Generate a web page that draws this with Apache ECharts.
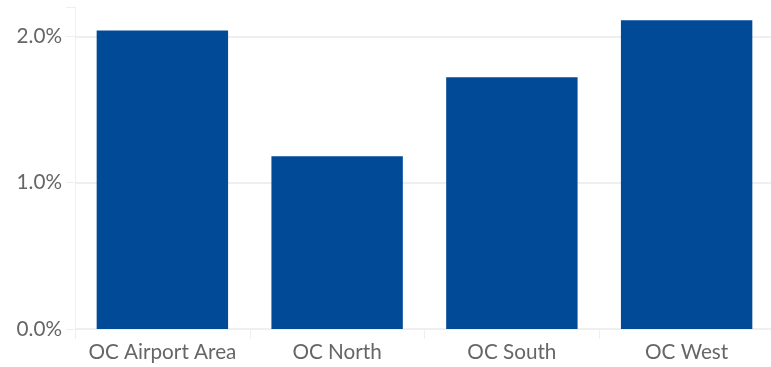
<!DOCTYPE html>
<html>
<head>
<meta charset="utf-8">
<script src="https://cdn.jsdelivr.net/npm/echarts@6/dist/echarts.min.js"></script>
<style>html,body{margin:0;padding:0;background:#fff}#c{width:771px;height:367px}</style>
</head>
<body>
<div id="c"></div>
<script>
const categories = ['OC Airport Area', 'OC North', 'OC South', 'OC West'];
const values = [2.04, 1.18, 1.72, 2.11];
const yTicks = [0, 1, 2];

const chart = echarts.init(document.getElementById('c'));
const gridColor = '#efefef';
const textColor = '#666666';
const font = 'Lato, "Open Sans", sans-serif';
chart.setOption({
  animation: false,
  grid: { left: 75, width: 699, top: 7, bottom: 38, containLabel: false, outerBoundsMode: 'none' },
  xAxis: {
    type: 'category',
    data: categories,
    axisLine: { show: true, lineStyle: { color: gridColor, width: 1 } },
    axisTick: { show: true, interval: 0, length: 10, lineStyle: { color: gridColor } },
    axisLabel: { interval: 0, color: textColor, fontSize: 20.7, fontFamily: font, margin: 13 }
  },
  yAxis: {
    type: 'value',
    min: 0, max: 2.2, interval: 1,
    axisLine: { show: true, lineStyle: { color: gridColor, width: 1 } },
    axisTick: { show: true, length: 9, lineStyle: { color: gridColor } },
    splitLine: { show: true, lineStyle: { color: [gridColor, gridColor, gridColor, 'rgba(0,0,0,0)'], width: 2 } },
    axisLabel: {
      color: textColor, fontSize: 20.7, fontFamily: font, margin: 13,
      formatter: v => yTicks.includes(v) ? v.toFixed(1) + '%' : ''
    }
  },
  series: [{
    type: 'bar',
    data: values,
    barCategoryGap: '24.8%',
    itemStyle: { color: '#004a97' }
  }]
});
</script>
</body>
</html>
